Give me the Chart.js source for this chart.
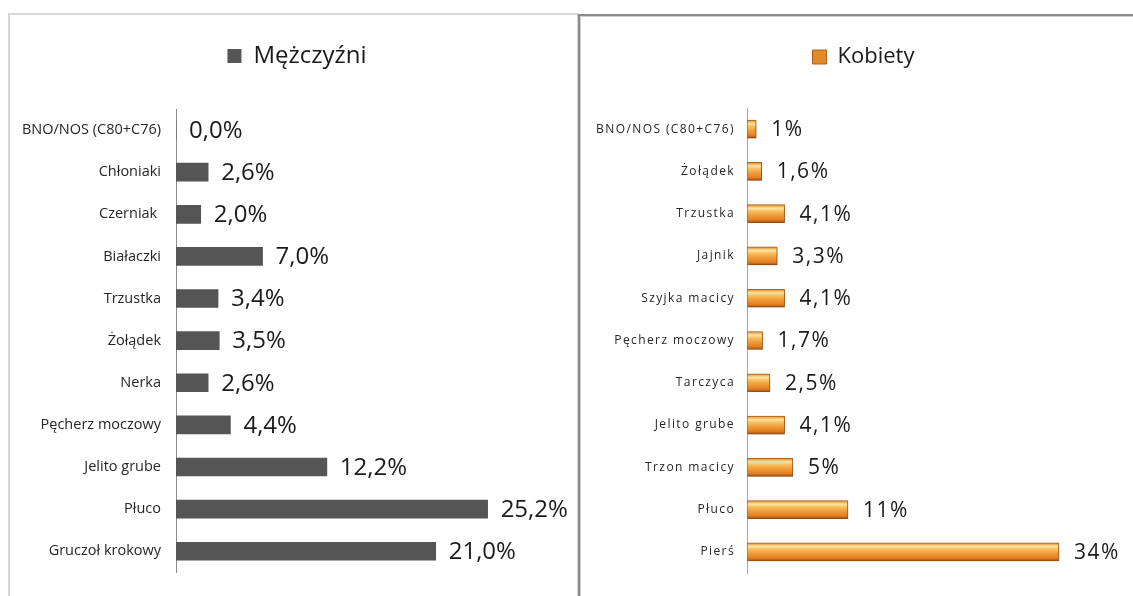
<!DOCTYPE html>
<html>
<head>
<meta charset="utf-8">
<script src="https://cdn.jsdelivr.net/npm/chart.js@4"></script>
<style>
  body { margin: 0; background: #fff; width: 1133px; height: 596px; overflow: hidden; position: relative; font-family: "Open Sans", sans-serif; }
  .panel { position: absolute; box-sizing: border-box; }
  #leftPanel { left: 8px; top: 13px; width: 571px; height: 620px; border: 2px solid #d6d6d6; }
  #rightPanel { left: 578px; top: 14px; width: 600px; height: 620px; border: 2px solid #8a8a8a; box-shadow: inset 1px 1px 0 #cfcfcf; }
  canvas { position: absolute; }
  #menChart { left: 9px; top: 15px; }
  #womenChart { left: 579px; top: 16px; }
</style>
</head>
<body>
<div class="panel" id="leftPanel"></div>
<div class="panel" id="rightPanel"></div>
<canvas id="menChart" width="567" height="581" style="width:567px;height:581px"></canvas>
<canvas id="womenChart" width="554" height="580" style="width:554px;height:580px"></canvas>
<script>
// Mężczyźni
const menLabels = ['BNO/NOS (C80+C76)', 'Chłoniaki', 'Czerniak ', 'Białaczki', 'Trzustka', 'Żołądek', 'Nerka', 'Pęcherz moczowy', 'Jelito grube', 'Płuco', 'Gruczoł krokowy']
const menValues = [0.0, 2.6, 2.0, 7.0, 3.4, 3.5, 2.6, 4.4, 12.2, 25.2, 21.0]

// Kobiety
const womenLabels = ['BNO/NOS (C80+C76)', 'Żołądek', 'Trzustka', 'Jajnik', 'Szyjka macicy', 'Pęcherz moczowy', 'Tarczyca', 'Jelito grube', 'Trzon macicy', 'Płuco', 'Pierś']
const womenValues = [1, 1.6, 4.1, 3.3, 4.1, 1.7, 2.5, 4.1, 5, 11, 34]

const menFormat = (v) => v.toFixed(1).replace('.', ',') + '%'
const womenFormat = (v) => String(v).replace('.', ',') + '%'

// etykiety z wartościami na końcu słupków + przesunięcie legendy
const valueLabels = (opts) => ({
    id: 'valueLabels',
    afterLayout(chart) {
        chart.legend.left += opts.legendShift
        chart.legend.right += opts.legendShift
    },
    beforeDatasetsDraw(chart) {
        if (!opts.shadow) return
        const ctx = chart.ctx
        ctx.shadowColor = 'rgba(0,0,0,0.25)'
        ctx.shadowOffsetY = 2
        ctx.shadowOffsetX = 1
        ctx.shadowBlur = 3
    },
    afterDatasetsDraw(chart) {
        const ctx = chart.ctx
        ctx.shadowColor = 'rgba(0,0,0,0)'
        ctx.shadowOffsetY = 0
        ctx.shadowOffsetX = 0
        ctx.shadowBlur = 0
        const meta = chart.getDatasetMeta(0)
        const data = chart.data.datasets[0].data
        ctx.save()
        ctx.letterSpacing = opts.spacing.values
        ctx.font = opts.valueFont
        ctx.fillStyle = '#1a1a1a'
        ctx.textAlign = 'left'
        ctx.textBaseline = 'middle'
        meta.data.forEach((bar, i) => {
            ctx.fillText(opts.format(data[i]), bar.x + opts.gap, bar.y + 1)
        })
        ctx.restore()
        // etykiety osi y rysowane po słupkach (ticks.z: 1), więc tu ustawiamy odstęp liter
        ctx.letterSpacing = opts.spacing.ticks
    },
    afterDraw(chart) {
        chart.ctx.letterSpacing = '0px'
    }
})

const orangeBar = (c) => {
    const chart = c.chart
    if (c.dataIndex === undefined || !chart.scales.y) return '#e8872a'
    const y = chart.scales.y.getPixelForValue(c.dataIndex)
    if (!isFinite(y)) return '#e8872a'
    const g = chart.ctx.createLinearGradient(0, y - 9, 0, y + 9)
    g.addColorStop(0, '#e08a2a')
    g.addColorStop(0.2, '#fde4a0')
    g.addColorStop(0.35, '#f8c060')
    g.addColorStop(0.6, '#f09a38')
    g.addColorStop(0.85, '#e27e22')
    g.addColorStop(1, '#9a5212')
    return g
}

const makeConfig = (labels, values, opts) => ({
    type: 'bar',
    data: {
        labels: labels,
        datasets: [{
            label: opts.title,
            data: values,
            backgroundColor: opts.color,
            borderColor: opts.border,
            borderWidth: opts.borderWidth,
            borderSkipped: false,
            barThickness: 18
        }]
    },
    options: {
        indexAxis: 'y',
        responsive: false,
        animation: false,
        layout: {
            padding: { top: opts.padTop, right: opts.padRight, bottom: 23, left: 0 }
        },
        plugins: {
            tooltip: { enabled: false },
            legend: {
                display: true,
                position: 'top',
                labels: {
                    boxWidth: 14,
                    boxHeight: 14,
                    padding: 10,
                    color: '#1a1a1a',
                    font: { family: 'Open Sans', size: opts.titleSize }
                }
            }
        },
        scales: {
            x: {
                position: 'top',
                min: 0,
                max: opts.xMax,
                grid: { display: false },
                border: { display: false },
                ticks: { display: false },
                afterFit: (s) => { s.height = opts.gapAbove }
            },
            y: {
                grid: { display: false, drawTicks: false },
                border: { display: true, color: opts.axisColor, width: 1 },
                ticks: {
                    z: 1,
                    padding: opts.tickPad,
                    color: '#262626',
                    font: { family: 'Open Sans', size: opts.tickSize }
                },
                afterFit: (s) => { s.width = opts.axisWidth }
            }
        }
    },
    plugins: [valueLabels(opts)]
})

new Chart(document.querySelector('#menChart'), makeConfig(menLabels, menValues, {
    title: 'Mężczyźni',
    color: '#555555',
    border: '#555555',
    borderWidth: 0,
    shadow: false,
    padTop: 19,
    padRight: 29,
    legendShift: 19,
    titleSize: 24,
    gapAbove: 31,
    xMax: 30,
    axisColor: '#8c8c8c',
    axisWidth: 167,
    tickPad: 15,
    tickSize: 14.5,
    format: menFormat,
    valueFont: '24px "Open Sans"',
    gap: 13,
    spacing: { ticks: '0px', values: '0px' }
}))

new Chart(document.querySelector('#womenChart'), makeConfig(womenLabels, womenValues, {
    title: 'Kobiety',
    color: orangeBar,
    border: '#b0601a',
    borderWidth: 1,
    shadow: true,
    padTop: 20,
    padRight: 19,
    legendShift: 17,
    titleSize: 22,
    gapAbove: 30,
    xMax: 40,
    axisColor: '#a6a6a6',
    axisWidth: 168,
    tickPad: 12,
    tickSize: 12,
    format: womenFormat,
    valueFont: '21px "Open Sans"',
    gap: 15,
    spacing: { ticks: '1.4px', values: '1.5px' }
}))
</script>
</body>
</html>
